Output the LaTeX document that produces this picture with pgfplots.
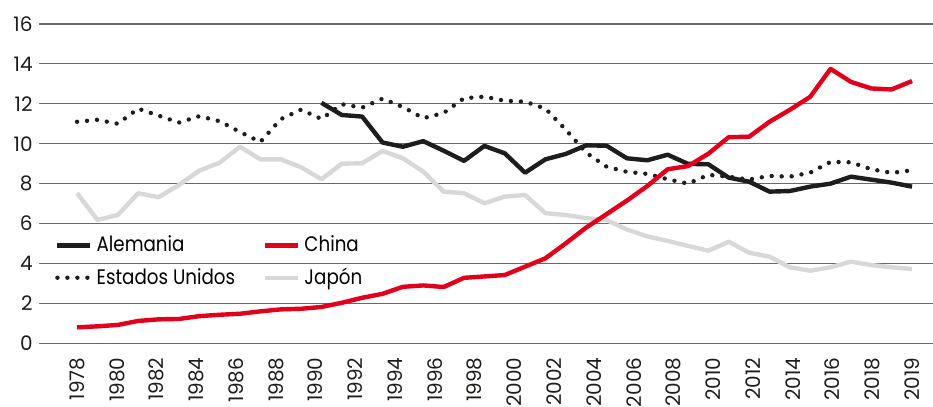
\documentclass[border=0pt]{standalone}
\usepackage{fontspec}
\setmainfont{Poppins}
\newfontfamily\legfont{Poppins}[FakeStretch=0.87]
\usepackage{pgfplots}
\pgfplotsset{compat=1.18}

\definecolor{alemania}{RGB}{29,29,27}
\definecolor{china}{RGB}{226,0,26}
\definecolor{japon}{RGB}{216,216,217}
\definecolor{gridc}{RGB}{105,105,105}

% data: share by year
\pgfplotstableread{
year val
1990 12.05
1991 11.44
1992 11.36
1993 10.06
1994 9.85
1995 10.13
1996 9.65
1997 9.14
1998 9.89
1999 9.52
2000 8.55
2001 9.22
2002 9.49
2003 9.92
2004 9.90
2005 9.27
2006 9.17
2007 9.45
2008 8.99
2009 8.97
2010 8.30
2011 8.10
2012 7.60
2013 7.63
2014 7.85
2015 8.00
2016 8.35
2017 8.20
2018 8.05
2019 7.85
}\alemania

\pgfplotstableread{
year val
1978 0.80
1979 0.85
1980 0.92
1981 1.12
1982 1.20
1983 1.22
1984 1.36
1985 1.43
1986 1.48
1987 1.60
1988 1.70
1989 1.73
1990 1.82
1991 2.03
1992 2.28
1993 2.48
1994 2.83
1995 2.90
1996 2.82
1997 3.28
1998 3.35
1999 3.42
2000 3.84
2001 4.26
2002 5.01
2003 5.80
2004 6.47
2005 7.15
2006 7.88
2007 8.72
2008 8.88
2009 9.50
2010 10.33
2011 10.35
2012 11.10
2013 11.70
2014 12.35
2015 13.75
2016 13.10
2017 12.77
2018 12.72
2019 13.14
}\china

\pgfplotstableread{
year val
1978 11.10
1979 11.20
1980 11.00
1981 11.76
1982 11.41
1983 11.06
1984 11.38
1985 11.13
1986 10.59
1987 10.09
1988 11.23
1989 11.71
1990 11.24
1991 11.98
1992 11.81
1993 12.26
1994 11.84
1995 11.28
1996 11.54
1997 12.28
1998 12.36
1999 12.15
2000 12.11
2001 11.76
2002 10.70
2003 9.55
2004 8.85
2005 8.59
2006 8.49
2007 8.22
2008 8.00
2009 8.44
2010 8.35
2011 8.20
2012 8.39
2013 8.35
2014 8.55
2015 9.09
2016 9.07
2017 8.72
2018 8.54
2019 8.67
}\eeuu

\pgfplotstableread{
year val
1978 7.52
1979 6.18
1980 6.43
1981 7.52
1982 7.32
1983 7.93
1984 8.65
1985 9.05
1986 9.85
1987 9.22
1988 9.22
1989 8.82
1990 8.22
1991 9.00
1992 9.02
1993 9.64
1994 9.27
1995 8.60
1996 7.60
1997 7.52
1998 7.02
1999 7.35
2000 7.43
2001 6.52
2002 6.43
2003 6.27
2004 6.18
2005 5.70
2006 5.36
2007 5.13
2008 4.88
2009 4.64
2010 5.09
2011 4.54
2012 4.34
2013 3.81
2014 3.64
2015 3.81
2016 4.09
2017 3.92
2018 3.81
2019 3.72
}\japon

\begin{document}
\begin{tikzpicture}
\useasboundingbox (-19.5pt,-31.85pt) rectangle (447pt,171.65pt);
\begin{axis}[
    scale only axis,
    width=447pt, height=159.65pt,
    xmin=1976.13, xmax=2020.03,
    ymin=0, ymax=16,
    ytick={0,2,...,16},
    % labels are spread evenly, the last one is 2019
    xtick={1978,1979.9524,1981.9048,1983.8571,1985.8095,1987.7619,1989.7143,1991.6667,1993.6190,1995.5714,1997.5238,1999.4762,2001.4286,2003.3810,2005.3333,2007.2857,2009.2381,2011.1905,2013.1429,2015.0952,2017.0476,2019},
    xticklabels={1978,1980,1982,1984,1986,1988,1990,1992,1994,1996,1998,2000,2002,2004,2006,2008,2010,2012,2014,2016,2018,2019},
    major tick length=0pt,
    axis line style={draw=none},
    ymajorgrids,
    grid style={gridc, line width=0.55pt},
    /pgf/number format/assume math mode=true,
    tick label style={font=\fontsize{10}{12}\selectfont, text=alemania},
    yticklabel style={anchor=east, inner sep=0pt},
    yticklabel shift=3pt,
    xticklabel style={rotate=90, anchor=east, inner sep=0pt},
    xticklabel shift=7pt,
    legend columns=2,
    legend cell align=left,
    legend style={draw=none, fill=none, at={(rel axis cs:0.011,0.3625)}, anchor=north west,
        font=\legfont\fontsize{10.5}{12}\selectfont, row sep=2.5pt,
        /tikz/every even column/.append style={column sep=12pt}},
    legend image code/.code={\draw[#1] (0pt,0pt) -- (16.5pt,0pt);},
    every axis plot/.append style={line width=2.2pt, line join=round},
]
\addlegendimage{alemania}
\addlegendentry{Alemania}
\addlegendimage{china}
\addlegendentry{China}
\addlegendimage{alemania, line cap=round, dash pattern=on 0pt off 5pt}
\addlegendentry{Estados Unidos}
\addlegendimage{japon}
\addlegendentry{Japón}

\addplot[japon, forget plot] table[x=year, y=val] {\japon};
\addplot[alemania, forget plot] table[x=year, y=val] {\alemania};
\addplot[alemania, line cap=round, dash pattern=on 0pt off 5pt, forget plot] table[x=year, y=val] {\eeuu};
\addplot[china, forget plot] table[x=year, y=val] {\china};
\end{axis}
\end{tikzpicture}
\end{document}
